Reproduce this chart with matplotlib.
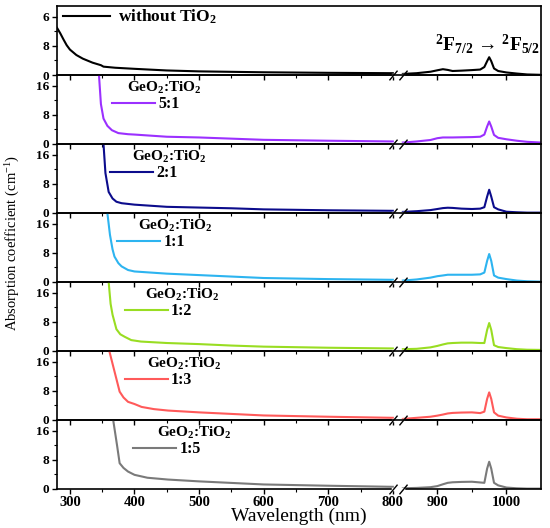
import numpy as np
import matplotlib
matplotlib.use("Agg")
import matplotlib.pyplot as plt
from matplotlib.ticker import FixedLocator

plt.rcParams['font.family'] = ['Liberation Serif', 'DejaVu Serif']
plt.rcParams['mathtext.fontset'] = 'custom'
plt.rcParams['mathtext.rm'] = 'Liberation Serif'
plt.rcParams['mathtext.bf'] = 'Liberation Serif:bold'
plt.rcParams['mathtext.it'] = 'Liberation Serif:italic'

# ---- data ----
labels = ["without TiO$_\\mathbf{2}$", "5:1", "2:1", "1:1", "1:2", "1:3", "1:5"]
colors = ["#000000", "#9B30FF", "#0C0C8C", "#2DB4F0", "#99DD22", "#FF5A5A", "#7A7A7A"]

wl_right = [850, 870, 890, 900, 908, 915, 922, 935, 950, 962, 968, 972, 975, 978,
            982, 988, 1000, 1015, 1030, 1050]

wl_left_0 = [280, 285, 290, 295, 300, 310, 320, 335, 348, 352, 370, 400, 450, 500, 600, 700, 800]
ab_left_0 = [13.0, 11.5, 9.8, 8.2, 7.0, 5.5, 4.5, 3.4, 2.7, 2.3, 2.0, 1.7, 1.25, 1.0, 0.75, 0.6, 0.5]
ab_right_0 = [0.3, 0.5, 0.9, 1.3, 1.6, 1.4, 1.1, 1.2, 1.35, 1.5, 2.2, 3.8, 4.9, 3.8,
              1.8, 1.1, 0.7, 0.4, 0.15, 0.05]

wl_left_1 = [343, 345, 348, 352, 358, 365, 375, 390, 400, 450, 500, 600, 700, 800]
ab_left_1 = [25, 19, 11, 7.0, 5.0, 3.8, 3.0, 2.7, 2.6, 2.0, 1.8, 1.15, 0.9, 0.7]
ab_right_1 = [0.4, 0.7, 1.1, 1.6, 1.8, 1.8, 1.8, 1.85, 1.9, 2.0, 2.6, 4.8, 6.2, 4.8,
              2.5, 1.7, 1.3, 0.9, 0.6, 0.4]

wl_left_2 = [350, 352, 355, 360, 366, 372, 380, 390, 400, 450, 500, 550, 600, 700, 800]
ab_left_2 = [25, 19, 11, 5.8, 4.0, 3.1, 2.7, 2.5, 2.3, 1.7, 1.5, 1.3, 1.0, 0.75, 0.6]
ab_right_2 = [0.3, 0.5, 0.8, 1.1, 1.35, 1.45, 1.4, 1.2, 1.1, 1.2, 1.6, 4.5, 6.4, 4.5,
              1.6, 1.0, 0.35, 0.2, 0.1, 0.1]

wl_left_3 = [356, 358, 362, 366, 369, 375, 380, 390, 400, 450, 500, 600, 700, 800]
ab_left_3 = [25, 19, 13, 9.0, 7.0, 5.2, 4.3, 3.3, 2.9, 2.3, 1.9, 1.1, 0.8, 0.6]
ab_right_3 = [0.4, 0.7, 1.2, 1.6, 1.8, 2.0, 2.0, 2.0, 2.0, 2.1, 2.6, 5.8, 7.7, 5.8,
              1.8, 1.2, 0.8, 0.4, 0.2, 0.1]

wl_left_4 = [358, 360, 363, 366, 372, 378, 385, 395, 410, 450, 500, 550, 600, 700, 800]
ab_left_4 = [25, 19, 13, 10, 6.0, 4.6, 3.9, 3.0, 2.6, 2.2, 1.9, 1.5, 1.2, 0.9, 0.7]
ab_right_4 = [0.5, 0.6, 1.0, 1.4, 1.8, 2.1, 2.2, 2.3, 2.3, 2.2, 2.2, 5.8, 7.7, 5.8,
              1.6, 1.1, 0.8, 0.5, 0.35, 0.3]

wl_left_5 = [359, 361, 366, 372, 377, 383, 390, 400, 411, 430, 452, 500, 600, 700, 800]
ab_left_5 = [25, 19, 15.5, 11.3, 7.8, 6.2, 5.0, 4.4, 3.6, 3.0, 2.6, 2.1, 1.25, 0.9, 0.6]
ab_right_5 = [0.3, 0.6, 0.9, 1.2, 1.5, 1.8, 1.95, 2.05, 2.1, 1.9, 2.3, 5.8, 7.6, 5.8,
              2.1, 1.2, 0.7, 0.35, 0.2, 0.2]

wl_left_6 = [365, 367, 370, 373, 377, 383, 390, 400, 420, 452, 500, 600, 700, 800]
ab_left_6 = [25, 19, 15.5, 12, 7.1, 5.8, 4.8, 3.9, 3.1, 2.6, 2.1, 1.25, 0.9, 0.6]
ab_right_6 = [0.2, 0.3, 0.5, 0.8, 1.3, 1.7, 1.85, 1.95, 2.0, 1.8, 1.7, 5.6, 7.5, 5.6,
              1.7, 1.0, 0.4, 0.2, 0.1, 0.1]

left_wl = [wl_left_0, wl_left_1, wl_left_2, wl_left_3, wl_left_4, wl_left_5, wl_left_6]
left_ab = [ab_left_0, ab_left_1, ab_left_2, ab_left_3, ab_left_4, ab_left_5, ab_left_6]
right_ab = [ab_right_0, ab_right_1, ab_right_2, ab_right_3, ab_right_4, ab_right_5, ab_right_6]

major_x = [300, 400, 500, 600, 700, 800, 900, 1000]
minor_x = [350, 450, 550, 650, 750, 950]


# broken x axis: 280-800 | 850-1050
def fwd(x):
    x = np.asarray(x, dtype=float)
    return np.where(x <= 800, (x - 280) * 0.645,
                    np.where(x <= 850, 335.4 + (x - 800) * 0.2,
                             345.4 + (x - 850) * 0.69))


def inv(y):
    y = np.asarray(y, dtype=float)
    return np.where(y <= 335.4, 280 + y / 0.645,
                    np.where(y <= 345.4, 800 + (y - 335.4) / 0.2,
                             850 + (y - 345.4) / 0.69))


fig = plt.figure(figsize=(5.5, 5.28), dpi=100)
gs = fig.add_gridspec(7, 1, left=57/550, right=541/550, top=1-6/528, bottom=1-489/528, hspace=0)

leg_line_x = [0.012, 0.114, 0.110, 0.124, 0.140, 0.140, 0.157]
title_x = [0, 0.145, 0.155, 0.167, 0.182, 0.186, 0.207]

axes = []
for i in range(7):
    ax = fig.add_subplot(gs[i])
    ax.patch.set_visible(False)
    ax.set_xscale('function', functions=(fwd, inv))
    ax.set_xlim(280, 1050)
    ax.set_ylim(0, 19)
    ax.plot(left_wl[i], left_ab[i], color=colors[i], lw=1.5, label=labels[i])
    ax.plot(wl_right, right_ab[i], color=colors[i], lw=1.5)

    ax.xaxis.set_major_locator(FixedLocator(major_x))
    ax.xaxis.set_minor_locator(FixedLocator(minor_x))
    ax.set_yticks([0, 8, 16])
    ax.set_yticks([4, 12], minor=True)
    if i == 0:
        ax.set_yticklabels(["0", "8", "6"])
    ax.tick_params(axis='both', which='major', direction='out', length=3.5, width=1.0,
                   labelsize=9.5, pad=2)
    ax.tick_params(axis='both', which='minor', direction='out', length=2, width=0.8)
    for lab in ax.get_yticklabels():
        lab.set_fontweight('bold')
    if i < 6:
        ax.tick_params(axis='x', labelbottom=False)
    else:
        ax.set_xticklabels([str(v) for v in major_x], fontweight='bold', fontsize=10.5)
        ax.tick_params(axis='x', pad=1.5)
    for sp in ax.spines.values():
        sp.set_linewidth(1.2)

    # break marks on the bottom spine
    tr = ax.get_xaxis_transform()
    ax.plot([800, 850], [0, 0], color='white', lw=2.5, transform=tr, clip_on=False, zorder=5)
    ax.plot([800, 850], [0, 0], ls='none', marker=[(-1, -1.2), (1, 1.2)], ms=7,
            mew=1.0, color='black', transform=tr, clip_on=False, zorder=6)

    if i == 0:
        ax.legend(loc='upper left', bbox_to_anchor=(leg_line_x[i], 0.97), frameon=False,
                  borderpad=0, borderaxespad=0, handlelength=2.7, handletextpad=0.5,
                  prop={'weight': 'bold', 'size': 12.5})
        ax.text(0.781, 0.36,
                r'$^{\mathbf{2}}\mathbf{F}_{\mathbf{7/2}}$' + ' \u2192 ' +
                r'$^{\mathbf{2}}\mathbf{F}_{\mathbf{5/2}}$',
                transform=ax.transAxes, fontsize=14, fontweight='bold', va='baseline')
    else:
        ax.legend(loc='center left', bbox_to_anchor=(leg_line_x[i], 0.575), frameon=False,
                  borderpad=0, borderaxespad=0, handlelength=2.7, handletextpad=0.2,
                  prop={'weight': 'bold', 'size': 11.5})
        ax.text(title_x[i], 0.815, r'GeO$_\mathbf{2}$:TiO$_\mathbf{2}$', transform=ax.transAxes,
                fontsize=11, fontweight='bold', va='center', ha='left')
    axes.append(ax)

fig.text(13/550, 1-243/528, r'Absorption coefficient (cm$^{-1}$)', rotation=90,
         ha='center', va='center', fontsize=10.5)
fig.text(299/550, 1-521/528, 'Wavelength (nm)', ha='center', va='baseline', fontsize=14)

fig.savefig("out.png", dpi=100)
